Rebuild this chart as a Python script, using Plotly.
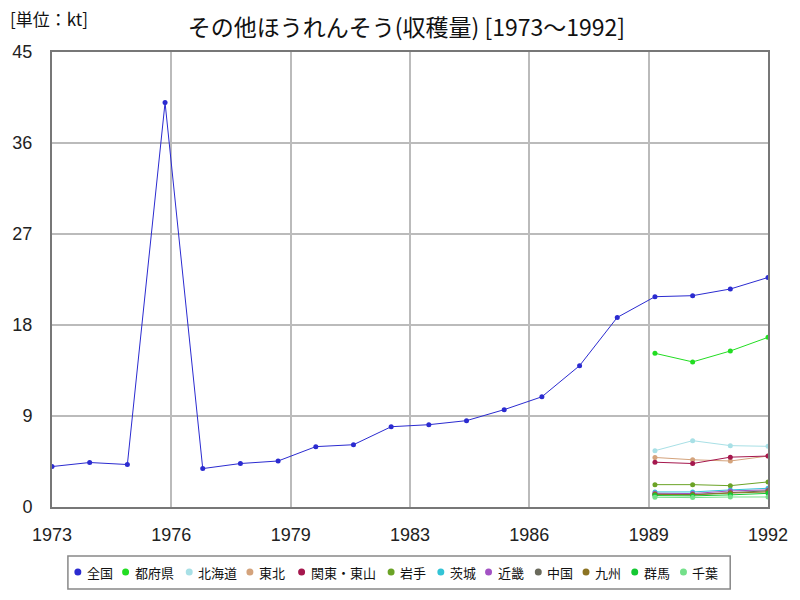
import plotly.graph_objects as go

years_all = list(range(1973, 1993))
years_pref = [1989, 1990, 1991, 1992]

national = [4.0, 4.4, 4.2, 40.0, 3.8, 4.3, 4.55, 5.97, 6.16, 7.94, 8.14, 8.54, 9.63, 10.9, 13.98, 18.75, 20.8, 20.9, 21.56, 22.7]
todofuken = [15.2, 14.35, 15.43, 16.78]
hokkaido = [5.57, 6.56, 6.07, 6.0]
tohoku = [4.9, 4.67, 4.55, 5.04]
kanto = [4.43, 4.3, 4.93, 5.04]
iwate = [2.21, 2.21, 2.11, 2.48]
ibaraki = [1.49, 1.49, 1.69, 1.85]
kinki = [1.36, 1.33, 1.59, 1.69]
chugoku = [1.26, 1.23, 1.42, 1.6]
kyushu = [1.26, 1.2, 1.38, 1.49]
gunma = [1.13, 1.1, 1.2, 1.35]
chiba = [0.96, 0.93, 0.99, 0.99]

y_ticks = [0, 9, 18, 27, 36, 45]
x_tick_labels = ["1973", "1976", "1979", "1983", "1986", "1989", "1992"]

series = [
    ("全国", years_all, national, "#2b2bd0"),
    ("都府県", years_pref, todofuken, "#22dd22"),
    ("北海道", years_pref, hokkaido, "#a8e0e6"),
    ("東北", years_pref, tohoku, "#d4a37c"),
    ("関東・東山", years_pref, kanto, "#a5174d"),
    ("岩手", years_pref, iwate, "#6ba326"),
    ("茨城", years_pref, ibaraki, "#33c4d6"),
    ("近畿", years_pref, kinki, "#a352c4"),
    ("中国", years_pref, chugoku, "#6a6a5c"),
    ("九州", years_pref, kyushu, "#8c7322"),
    ("群馬", years_pref, gunma, "#14c832"),
    ("千葉", years_pref, chiba, "#74e08a"),
]

# plot area in pixels (layout)
PL, PR, PT, PB = 52, 772, 52, 507
W, H = 800, 600
PW, PH = PR - PL, PB - PT


def px_x(p):
    return (p - PL) / PW


def px_y(p):
    return (PB - p) / PH


fig = go.Figure()
for name, xs, ys, col in series:
    fig.add_trace(go.Scatter(x=xs, y=ys, mode="lines+markers", name=name,
                             line=dict(color=col, width=1), marker=dict(color=col, size=5),
                             showlegend=False))

x0, x1 = years_all[0], years_all[-1]
n = len(x_tick_labels) - 1
tickvals = [x0 + i * (x1 - x0) / n for i in range(n + 1)]

tick_font = dict(family="Liberation Sans Narrow, Arial Narrow, Liberation Sans, sans-serif", size=18, color="#222")

# manual legend: positions of text left edges (pixels)
legend_text_left = [86, 134, 198, 259, 311, 401, 451, 499, 549, 597, 646, 695]
legend_y = 572
shapes = [dict(type="rect", xref="paper", yref="paper", x0=px_x(68), x1=px_x(734),
               y0=px_y(589), y1=px_y(556), line=dict(color="#888", width=1.5), fillcolor="white", layer="below")]
annotations = []
r = 3.5
for (name, xs, ys, col), tl in zip(series, legend_text_left):
    cx = tl - 8
    shapes.append(dict(type="circle", xref="paper", yref="paper",
                       x0=px_x(cx - r), x1=px_x(cx + r), y0=px_y(legend_y + r), y1=px_y(legend_y - r),
                       fillcolor=col, line=dict(color=col, width=0)))
    annotations.append(dict(text=name, xref="paper", yref="paper", x=px_x(tl - 1), y=px_y(legend_y),
                            xanchor="left", yanchor="middle", showarrow=False,
                            font=dict(family="Noto Sans CJK JP", size=13, color="#111")))

annotations.append(dict(text="[単位：kt]", xref="paper", yref="paper", x=px_x(8), y=px_y(18),
                        xanchor="left", yanchor="middle", showarrow=False,
                        font=dict(family="Noto Sans CJK JP", size=17, color="#111")))

fig.update_layout(
    width=W, height=H,
    margin=dict(l=PL, r=W - PR, t=PT, b=H - PB),
    paper_bgcolor="white", plot_bgcolor="white",
    title=dict(text="その他ほうれんそう(収穫量) [1973～1992]", x=0.508, xanchor="center", y=1 - 28 / H, yanchor="middle",
               font=dict(family="Noto Sans CJK JP", size=23, color="#111")),
    xaxis=dict(range=[x0, x1], tickvals=tickvals, ticktext=x_tick_labels, showgrid=True,
               gridcolor="#bbbbbb", gridwidth=2, showline=True, linecolor="#777", linewidth=2,
               mirror=True, ticks="outside", ticklen=10, tickcolor="rgba(0,0,0,0)", tickfont=tick_font, zeroline=False),
    yaxis=dict(range=[0, 45], tickvals=y_ticks, showgrid=True, gridcolor="#bbbbbb", gridwidth=2,
               showline=True, linecolor="#777", linewidth=2, mirror=True, ticks="outside",
               ticklen=14, tickcolor="rgba(0,0,0,0)", tickfont=tick_font, zeroline=False),
    showlegend=False,
    shapes=shapes,
    annotations=annotations,
)

fig.write_html("out.html")
